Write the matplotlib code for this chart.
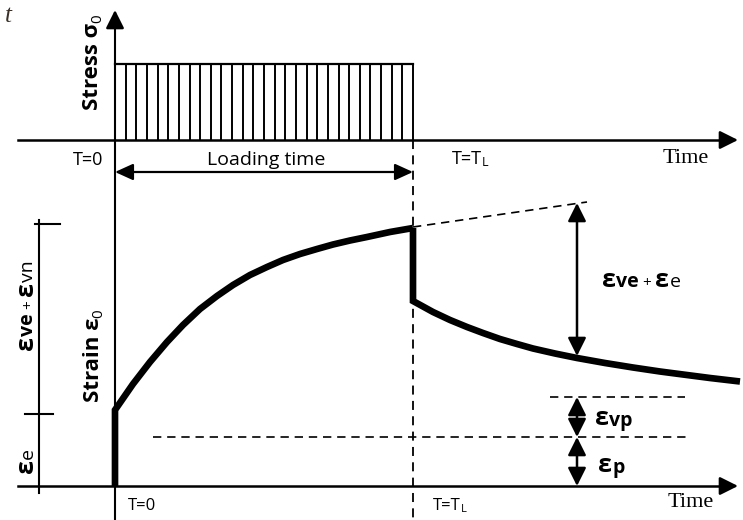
import numpy as np
import matplotlib.pyplot as plt

plt.rcParams['font.family'] = ['Open Sans', 'DejaVu Sans']

# schematic, in picture pixels (y grows downwards)
t0_x = 115          # T = 0
tL_x = 413          # T = T_L
top_axis_y = 140    # time axis of the stress plot
stress_y = 64       # stress level sigma_0
bot_axis_y = 486    # time axis of the strain plot
axis_left = 18
axis_tip = 738

# strain during loading (elastic jump then creep)
load_x = [115, 115, 133, 150, 167, 183, 200, 217, 233, 250, 267, 283, 300,
          317, 333, 350, 367, 390, 413]
load_y = [486, 410, 384, 362, 342, 325, 309, 296, 285, 275, 267, 260, 254,
          249, 244.5, 240.5, 237, 232, 228]
# strain after unloading (elastic drop then recovery)
unload_x = [413, 413, 433, 450, 467, 483, 500, 517, 533, 555, 577, 605, 633,
            660, 683, 710, 740]
unload_y = [228, 301, 312, 320, 327, 333, 339, 344, 348.5, 353.5, 358, 363,
            367.5, 371.5, 374.5, 378, 381.5]
# creep continued (dashed) and strain levels
extend_x = [413, 587]
extend_y = [227, 202]
eps_arrow_x = 577
eps_top, eps_recov, eps_vp, eps_p = 203, 356, 397, 437
bracket_x = 39
bracket_ticks = [224, 414]

fig = plt.figure(figsize=(7.43, 5.2), dpi=100)
ax = fig.add_axes([0, 0, 1, 1])
ax.set_xlim(0, 743)
ax.set_ylim(520, 0)
ax.axis('off')

k = 'black'


def arrow(x0, y0, x1, y1, style='-|>', lw=1.8, hl=1.1, hw=0.55):
    ax.annotate('', xy=(x1, y1), xytext=(x0, y0),
                arrowprops=dict(arrowstyle=f'{style},head_length={hl},head_width={hw}',
                                mutation_scale=10, lw=lw, color=k,
                                shrinkA=0, shrinkB=0))


def rich(x, y, parts, rot=0):
    # parts: (text, size, weight, rise in px)
    r = fig.canvas.get_renderer()
    a = 0
    for s, size, weight, rise in parts:
        ax.annotate(s, (x, y), xytext=(a, rise) if rot == 0 else (-rise, a),
                    textcoords='offset pixels', fontsize=size, fontweight=weight,
                    rotation=rot, rotation_mode='anchor', ha='left', va='baseline')
        t0 = ax.text(0, 0, s, fontsize=size, fontweight=weight)
        a += t0.get_window_extent(r).width
        t0.remove()


# ---- stress plot ----
ax.plot([axis_left, axis_tip - 10], [top_axis_y, top_axis_y], color=k, lw=1.8)
arrow(axis_tip - 12, top_axis_y, axis_tip, top_axis_y)
ax.plot([t0_x, t0_x], [520, 24], color=k, lw=1.5)
arrow(t0_x, 26, t0_x, 10)
hatch_x = np.linspace(t0_x, tL_x, 29)
ax.vlines(hatch_x, stress_y, top_axis_y, color=k, lw=1.4)
ax.plot([t0_x, tL_x], [stress_y, stress_y], color=k, lw=1.6)
ax.plot([tL_x, tL_x], [top_axis_y, 520], color=k, lw=1.3, ls=(0, (5, 3.5)))

arrow(t0_x, 172, tL_x, 172, style='<|-|>', lw=1.6, hl=1.1, hw=0.5)
ax.text(103, 165, 'T=0', fontsize=13, ha='right', va='baseline')
ax.text(266, 165, 'Loading time', fontsize=14, ha='center', va='baseline')
rich(452, 164, [('T=T', 13, 'normal', 0), ('L', 9, 'normal', -2)])
ax.text(663, 163, 'Time', fontsize=16, family='Liberation Serif', va='baseline')
rich(98, 110, [('Stress σ', 16, 'bold', 0), ('0', 11, 'normal', -3)], rot=90)
ax.text(5, 22, 't', fontsize=18, family='Liberation Serif', style='italic',
        color='#3a3028', va='baseline')

# ---- strain plot ----
ax.plot([axis_left, axis_tip - 10], [bot_axis_y, bot_axis_y], color=k, lw=1.8)
arrow(axis_tip - 12, bot_axis_y, axis_tip, bot_axis_y)
ax.plot(load_x, load_y, color=k, lw=4.8, solid_joinstyle='miter', solid_capstyle='butt')
ax.plot(unload_x, unload_y, color=k, lw=4.8, solid_joinstyle='miter', solid_capstyle='butt')
ax.plot(extend_x, extend_y, color=k, lw=1.2, ls=(0, (5, 3.5)))
ax.plot([550, 685], [eps_vp, eps_vp], color=k, lw=1.2, ls=(0, (5, 3.5)))
ax.plot([153, 688], [eps_p, eps_p], color=k, lw=1.2, ls=(0, (5, 3.5)))

arrow(eps_arrow_x, eps_top, eps_arrow_x, eps_recov, style='<|-|>', lw=1.8, hl=1.1, hw=0.55)
arrow(eps_arrow_x, eps_vp, eps_arrow_x, eps_p, style='<|-|>', lw=1.8, hl=1.1, hw=0.55)
arrow(eps_arrow_x, eps_p, eps_arrow_x, bot_axis_y, style='<|-|>', lw=1.8, hl=1.1, hw=0.55)

# left bracket
ax.plot([bracket_x, bracket_x], [220, 493], color=k, lw=1.5)
ax.plot([35, 60], [bracket_ticks[0]] * 2, color=k, lw=1.5)
ax.plot([25, 53], [bracket_ticks[1]] * 2, color=k, lw=1.5)

ax.text(128, 510, 'T=0', fontsize=12, va='baseline')
rich(433, 510, [('T=T', 12, 'normal', 0), ('L', 8, 'normal', -2)])
ax.text(668, 507, 'Time', fontsize=16, family='Liberation Serif', va='baseline')
rich(99, 402, [('Strain ε', 16, 'bold', 0), ('0', 11, 'normal', -3)], rot=90)

rich(602, 287, [('ε', 18, 'bold', 0), ('ve', 14, 'bold', 0), (' + ', 11, 'normal', 0),
                ('ε', 18, 'bold', 0), ('e', 14, 'normal', 0)])
rich(595, 425, [('ε', 18, 'bold', 0), ('vp', 14, 'bold', -1)])
rich(598, 472, [('ε', 18, 'bold', 0), ('p', 14, 'bold', -1)])
rich(33, 350, [('ε', 18, 'bold', 0), ('ve', 14, 'bold', 0), (' + ', 11, 'normal', 0),
               ('ε', 18, 'bold', 0), ('vn', 14, 'normal', 0)], rot=90)
rich(33, 473, [('ε', 18, 'bold', 0), ('e', 14, 'normal', 0)], rot=90)

fig.savefig('out.png', dpi=100)
